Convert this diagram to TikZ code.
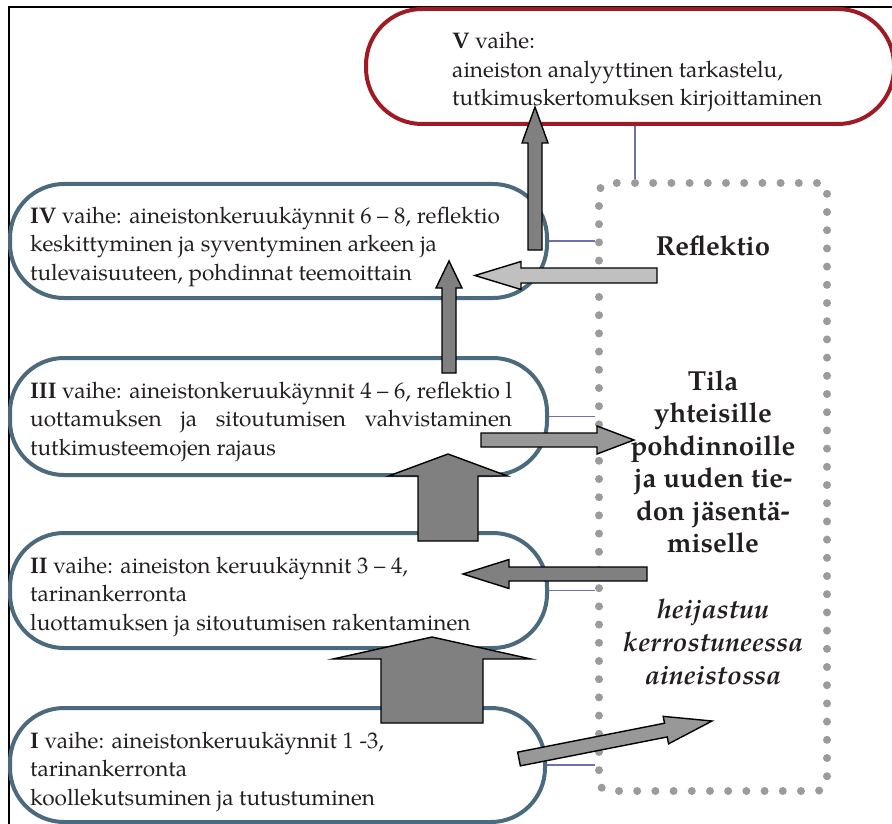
\documentclass[tikz,border=0pt]{standalone}
\usepackage{fontspec}
\setmainfont{TeX Gyre Pagella}
\usetikzlibrary{calc}
\definecolor{redline}{RGB}{160,26,36}
\definecolor{blueline}{RGB}{76,106,126}
\definecolor{dotgray}{RGB}{155,155,155}
\definecolor{connline}{RGB}{112,112,170}
\definecolor{darkfill}{RGB}{128,128,128}
\definecolor{midfill}{RGB}{152,152,152}
\definecolor{lightfill}{RGB}{192,192,192}
\definecolor{ink}{RGB}{35,31,32}
\newcommand\linestack[2]{\vtop{\baselineskip=#1\lineskiplimit=-100pt\lineskip=0pt\halign{##\hfil\cr#2\crcr}}}
\newcommand\centerstack[2]{\vtop{\baselineskip=#1\lineskiplimit=-100pt\lineskip=0pt\halign{\hfil##\hfil\cr#2\crcr}}}
\newcommand\blockarrow[8]{%
 \pgfmathsetmacro\bdx{#4-#2}\pgfmathsetmacro\bdy{#5-#3}%
 \pgfmathsetmacro\blen{veclen(\bdx,\bdy)}\pgfmathsetmacro\bang{-atan2(\bdy,\bdx)}%
 \pgfmathsetmacro\bneck{\blen-#8}%
 \begin{scope}[shift={(#2,#3)},rotate=\bang]
 \draw[blockarrow,fill=#1] (0,#6)--(\bneck,#6)--(\bneck,#7)--(\blen,0)--(\bneck,-#7)--(\bneck,-#6)--(0,-#6)--cycle;
 \end{scope}}
\tikzset{
 blockarrow/.style={draw=black, line width=1.4pt, line join=miter},
 bluebox/.style={draw=blueline, line width=4pt, rounded corners=54pt, inner sep=0pt},
 redbox/.style={draw=redline, line width=4pt, rounded corners=56pt, inner sep=0pt},
 conn/.style={draw=connline, line width=1.3pt},
 dotbox/.style={draw=dotgray, line width=8pt, line cap=round, dash pattern=on 0pt off 18.2pt, rounded corners=10pt, inner sep=0pt},
 txt/.style={anchor=base west, inner sep=0pt, text=ink, font=\fontsize{22.6}{28.5}\selectfont},
 sidetxt/.style={anchor=base, inner sep=0pt, text=ink, font=\bfseries\fontsize{27.5}{32.5}\selectfont},
 frameline/.style={draw=black, line width=2pt}
}
\begin{document}
\begin{tikzpicture}[x=1pt,y=-1pt]
\useasboundingbox (0,0) rectangle (892,824);
\draw[frameline] (8.5,824) -- (8.5,7.5) -- (892,7.5);
% phase boxes
\node[redbox, minimum width=528pt, minimum height=115pt] (b5) at (630,66.5) {};
\node[bluebox, minimum width=537pt, minimum height=114pt] (b4) at (278.5,241) {};
\node[bluebox, minimum width=537pt, minimum height=117pt] (b3) at (278.5,416.5) {};
\node[bluebox, minimum width=537pt, minimum height=115pt] (b2) at (278.5,590.5) {};
\node[bluebox, minimum width=535pt, minimum height=114pt] (b1) at (277.5,765) {};
% dotted reflection space
\node[dotbox, minimum width=228pt, minimum height=608pt] (tila) at (713,487) {};
% thin connectors
\coordinate (c5) at (635,0);
\draw[conn] (c5 |- b5.south) -- (c5 |- tila.north);
\draw[conn] (b4.east) -- (b4.east -| tila.west);
\draw[conn] (b3.east) -- (b3.east -| tila.west);
\draw[conn] (b2.east) -- (b2.east -| tila.west);
\draw[conn] (b1.east) -- (b1.east -| tila.west);
% texts
\node[txt] (t5) at (452,49) {\linestack{28.5pt}{\textbf{V} vaihe:\cr aineiston analyyttinen tarkastelu,\cr tutkimuskertomuksen kirjoittaminen}};
\node[txt] (t4) at (30,223) {\linestack{28.5pt}{\textbf{IV} vaihe: aineistonkeruukäynnit 6 – 8, reflektio\cr keskittyminen ja syventyminen arkeen ja\cr tulevaisuuteen, pohdinnat teemoittain}};
\node[txt] (t3) at (30,398) {\setbox0=\hbox{\textbf{III} vaihe: aineistonkeruukäynnit 4 – 6, reflektio l}\linestack{28.5pt}{\copy0\cr \hbox to \wd0{uottamuksen\hfil ja\hfil sitoutumisen\hfil vahvistaminen}\cr tutkimusteemojen rajaus}};
\node[txt] (t2) at (30,573) {\linestack{28.5pt}{\textbf{II} vaihe: aineiston keruukäynnit 3 – 4,\cr tarinankerronta\cr luottamuksen ja sitoutumisen rakentaminen}};
\node[txt] (t1) at (30,748) {\linestack{28.5pt}{\textbf{I} vaihe: aineistonkeruukäynnit 1 -3,\cr tarinankerronta\cr koollekutsuminen ja tutustuminen}};
\node[sidetxt] (refl) at (713,255) {Reflektio};
\node[sidetxt] (space) at (713,390) {\centerstack{32.5pt}{Tila\cr yhteisille\cr pohdinnoille\cr ja uuden tie-\cr don jäsentä-\cr miselle}};
\node[sidetxt, font=\bfseries\itshape\fontsize{27}{33}\selectfont] (heij) at (713,618) {\centerstack{33pt}{heijastuu\cr kerrostuneessa\cr aineistossa}};
% block arrows
\blockarrow{darkfill}{432}{723}{432}{637}{51}{99}{22}
\blockarrow{darkfill}{448}{541}{448}{454}{30}{59.5}{22}
\blockarrow{darkfill}{449}{373}{449}{261}{7}{13}{27}
\blockarrow{darkfill}{535}{250}{535}{107}{7}{13}{36}
\blockarrow{lightfill}{657}{275.5}{475}{275.5}{7.5}{14}{46}
\blockarrow{midfill}{481}{440}{634}{440}{7}{14}{37}
\blockarrow{darkfill}{647}{574}{463}{574}{7}{14.5}{46}
\blockarrow{midfill}{519}{759}{712}{721}{7}{14}{47}
\end{tikzpicture}
\end{document}
